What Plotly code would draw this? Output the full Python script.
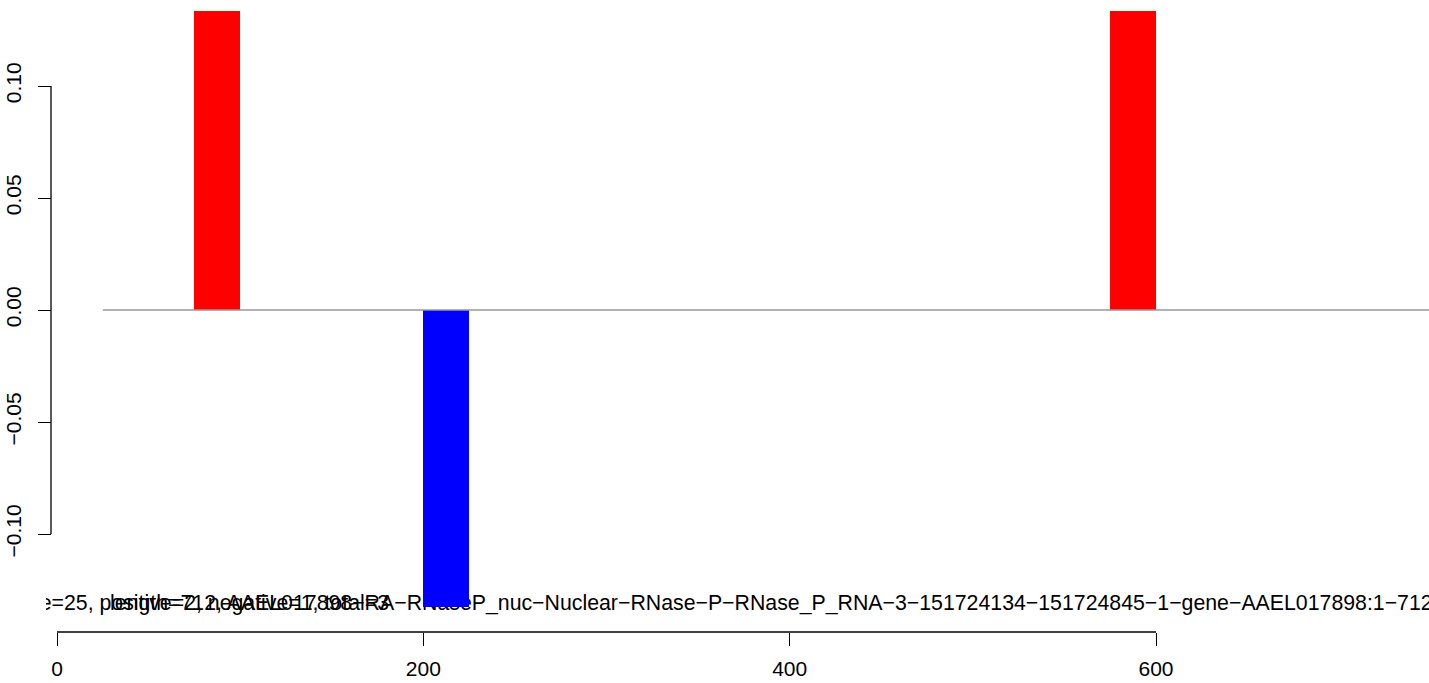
import plotly.graph_objects as go

# ---- data ----
bin_start = [75, 200, 575]          # window start positions
bin_width = 25                       # window size
bin_value = [0.1335, -0.1326, 0.1335]  # visible (clipped) bar heights
bin_color = ["#FF0000", "#0000FF", "#FF0000"]

baseline_x = [25, 750]
baseline_y = [0, 0]

x_ticks = [0, 200, 400, 600]
x_ticklabels = ["0", "200", "400", "600"]
y_ticks = [-0.10, -0.05, 0.0, 0.05, 0.10]
y_ticklabels = ["\u22120.10", "\u22120.05", "0.00", "0.05", "0.10"]

label_a = "window size=25, positive=2, negative=1, total=3"
label_b = ("length=712, AAEL017898\u2212RA\u2212RNaseP_nuc\u2212Nuclear\u2212RNase\u2212P\u2212"
           "RNase_P_RNA\u22123\u2212151724134\u2212151724845\u22121\u2212gene\u2212AAEL017898:1\u2212712")

FONT = "Liberation Sans, Arial, Helvetica, sans-serif"
FS = 21
FS_B = 21.3

# pixel geometry helpers (for axis ranges)
W, H = 1429, 683
px0, pxscale = 57.0, 1099.0 / 600.0     # x: value 0 at pixel 57
py0, pyscale = 310.0, 2240.0            # y: value 0 at pixel 310
left_px, right_px, top_px, bottom_px, axis_px = 46, 1429, 11, 620, 632

x_range = [(left_px - px0) / pxscale, (right_px - px0) / pxscale]
y_range = [-(bottom_px - py0) / pyscale, (py0 - top_px) / pyscale]

paper_h = axis_px - top_px
y_dom0 = (axis_px - bottom_px) / paper_h

text_y = -(605 - py0) / pyscale
a_end_x = (389 - px0) / pxscale
b_start_x = (110 - px0) / pxscale

fig = go.Figure()

# base subplot: text (drawn underneath the bars)
fig.add_trace(go.Scatter(x=[a_end_x], y=[text_y], mode="text", text=[label_a],
                         textposition="middle left",
                         textfont=dict(family=FONT, size=FS_B, color="black"),
                         hoverinfo="skip", showlegend=False, xaxis="x", yaxis="y"))
fig.add_trace(go.Scatter(x=[b_start_x], y=[text_y], mode="text", text=[label_b],
                         textposition="middle right",
                         textfont=dict(family=FONT, size=FS_B, color="black"),
                         hoverinfo="skip", showlegend=False, xaxis="x", yaxis="y"))

# overlay subplot: baseline + bars
fig.add_trace(go.Scatter(x=baseline_x, y=baseline_y, mode="lines",
                         line=dict(color="#999999", width=1.5),
                         hoverinfo="skip", showlegend=False, xaxis="x2", yaxis="y2"))
fig.add_trace(go.Bar(x=bin_start, y=bin_value, width=bin_width, offset=0,
                     marker=dict(color=bin_color, line=dict(width=0)),
                     showlegend=False, xaxis="x2", yaxis="y2"))

ypos = (51 - left_px) / (right_px - left_px)

fig.update_layout(
    width=W, height=H,
    margin=dict(l=left_px, r=W - right_px, t=top_px, b=H - axis_px),
    paper_bgcolor="white", plot_bgcolor="rgba(0,0,0,0)",
    font=dict(family=FONT, size=FS, color="black"),
    bargap=0,
    xaxis=dict(domain=[0, 1], range=x_range, visible=False, anchor="y"),
    yaxis=dict(domain=[y_dom0, 1], range=y_range, visible=False, anchor="x"),
    xaxis2=dict(overlaying="x", range=x_range, anchor="free", position=0,
                showline=False, showgrid=False, zeroline=False,
                ticks="outside", ticklen=13, tickwidth=1.3, tickcolor="black",
                tickvals=x_ticks, ticktext=x_ticklabels,
                tickfont=dict(family=FONT, size=FS, color="black"),
                ticklabelstandoff=5),
    yaxis2=dict(overlaying="y", range=y_range, anchor="free", position=ypos,
                showline=False, showgrid=False, zeroline=False,
                ticks="outside", ticklen=13, tickwidth=1.3, tickcolor="black",
                tickvals=y_ticks, ticktext=y_ticklabels, tickangle=-90,
                tickfont=dict(family=FONT, size=FS, color="black"),
                ticklabelstandoff=9),
    shapes=[
        dict(type="line", xref="x2", yref="paper", x0=x_ticks[0], x1=x_ticks[-1], y0=0, y1=0,
             line=dict(color="black", width=1.3)),
        dict(type="line", xref="paper", yref="y2", x0=ypos, x1=ypos,
             y0=y_ticks[0], y1=y_ticks[-1], line=dict(color="black", width=1.3)),
    ],
)

fig.write_html("out.html", config={"displayModeBar": False},
               post_script="document.body.style.margin='0';")
